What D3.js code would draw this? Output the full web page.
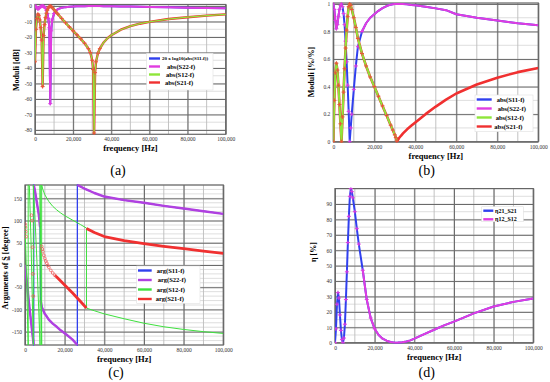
<!DOCTYPE html>
<html>
<head>
<meta charset="utf-8">
<script src="https://cdn.jsdelivr.net/npm/d3@7"></script>
<style>
body { margin: 0; background: #fff; }
svg text { font-family: "Liberation Serif", "DejaVu Serif", serif; }
</style>
</head>
<body>
<svg id="fig" width="550" height="382"></svg>
<script>
// frequency samples used by the magnitude panels (a), (b), (d)
const freqHz = [0, 500, 1000, 1500, 2000, 2500, 3000, 3500, 4000, 4500,
    5000, 5500, 6000, 6500, 7000, 7500, 8000, 8500, 9000, 10000,
    11000, 12000, 14000, 16000, 18000, 20000, 22000, 24000, 26000, 28000,
    29000, 30000, 30500, 31000, 31500, 32000, 33000, 34000, 36000, 38000,
    40000, 45000, 50000, 55000, 60000, 70000, 80000, 90000, 100000];

// (a) moduli in dB
const s11dB = [0, -0.3, -1.2, -2.0, -1.6, -0.8, -0.3, -0.1, 0, -0.2,
    -0.7, -1.5, -2.8, -4.8, -8, -14, -63, -16, -9, -4.8,
    -3.0, -2.0, -1.1, -0.7, -0.45, -0.3, -0.2, -0.12, -0.06, -0.03,
    -0.02, -0.01, 0, 0, 0, 0, -0.01, -0.02, -0.05, -0.08,
    -0.12, -0.22, -0.33, -0.45, -0.58, -0.85, -1.1, -1.3, -1.5];
const s21dB = [-36, -15, -8, -5.2, -6, -9, -14, -22, -52, -19,
    -12, -7.5, -4.6, -2.6, -1.2, -0.3, 0, -0.4, -1.0, -2.4,
    -3.8, -5.2, -8, -10.8, -13.5, -16, -18.6, -21.2, -24, -27.5,
    -30, -35, -41, -82, -43, -36, -30.5, -27.5, -23.5, -20.8,
    -18.8, -15.3, -13, -11.4, -10.2, -8.4, -7.2, -6.2, -5.4];

// (b) moduli, linear
const s11Abs = [1.0, 0.96, 0.88, 0.82, 0.85, 0.91, 0.96, 0.99, 1.0, 0.98,
    0.93, 0.85, 0.73, 0.58, 0.41, 0.22, 0.0, 0.1, 0.2, 0.38,
    0.55, 0.69, 0.8, 0.86, 0.9, 0.925, 0.95, 0.97, 0.985, 0.995,
    0.998, 1.0, 1.0, 1.0, 1.0, 1.0, 1.0, 0.999, 0.997, 0.993,
    0.99, 0.98, 0.968, 0.955, 0.925, 0.9, 0.88, 0.86, 0.845];
const s21Abs = [0, 0.3, 0.5, 0.57, 0.52, 0.41, 0.27, 0.13, 0.0, 0.18,
    0.36, 0.53, 0.68, 0.81, 0.91, 0.98, 1.0, 0.99, 0.96, 0.9,
    0.83, 0.75, 0.64, 0.55, 0.47, 0.4, 0.33, 0.26, 0.19, 0.12,
    0.085, 0.05, 0.03, 0.005, 0.012, 0.025, 0.043, 0.06, 0.09, 0.115,
    0.14, 0.2, 0.255, 0.305, 0.35, 0.415, 0.465, 0.505, 0.535];

// (d) efficiency in %
const etaPct = [0, 9, 25, 32.5, 29, 18, 8, 2, 0, 3,
    12, 28, 46, 65, 82, 95, 100, 98, 94, 85,
    74, 64, 47, 28, 16, 9, 5, 2.6, 1.3, 0.5,
    0.25, 0.08, 0.02, 0, 0.01, 0.05, 0.15, 0.3, 0.8, 1.5,
    2.6, 5.6, 8.4, 11.2, 13.7, 19, 23.5, 26.5, 28.7];

// (c) arguments in degrees, [frequency, degree]; wraps kept as written
const argS11 = [[0, 0], [1000, -40], [2000, -85], [3000, -125], [4000, -165], [4400, -180],
    [4400, 180], [5000, 168], [6000, 140], [7000, 112], [7600, 85],
    [7900, -80], [8500, -95], [10000, -110], [11000, -116], [12000, -123], [14000, -132],
    [16000, -139], [18000, -147], [21000, -157], [24000, -168], [26400, -180],
    [26400, 180], [30000, 172], [35000, 162], [40000, 154], [50000, 146], [60000, 140],
    [70000, 133], [80000, 127], [90000, 121], [100000, 115]];
const argS22 = argS11;
const argS12 = [[0, 90], [500, 20], [1000, -70], [1600, -180],
    [1600, 180], [2200, 178], [3000, 60], [3600, -60], [4200, -180],
    [4200, 180], [5000, 110], [6000, 10], [7000, -110], [7600, -180],
    [7600, 180], [8400, -180],
    [8400, 180], [9000, 170], [10000, 158], [12000, 143], [14000, 132], [16000, 124],
    [18000, 117], [20000, 111], [24000, 101], [28000, 91], [31000, 83],
    [31000, -97], [35000, -103], [40000, -110], [50000, -121], [60000, -131],
    [70000, -139], [80000, -145], [90000, -150], [100000, -154]];
const argS21 = [[0, 92], [200, 85], [400, 75], [600, 64], null,
    [3300, 112], [3600, 100], [3800, 40], [4000, -20], [4200, -70], null,
    [8400, 42], [8700, 36], [9000, 30], [9500, 22], [10000, 15], [10500, 9], [11000, 4],
    [11500, -1], [12000, -5], [13000, -12], [14000, -18], [15000, -23], [16000, -27],
    [18000, -36], [20000, -45], [24000, -63], [28000, -82], [31000, -97], null,
    [31000, 82], [35000, 73], [40000, 64], [50000, 55], [60000, 48], [70000, 42],
    [80000, 37], [90000, 31], [100000, 26]];

const xTicks = [0, 20000, 40000, 60000, 80000, 100000];

const BLUE = "#3040ee", MAGENTA = "#e03ce0", LIME = "#8ee63a", RED = "#f03030",
    GREEN = "#3ee03e", PURPLE = "#b040e0";

const svg = d3.select("#fig");
let clipId = 0;

function range(a, b, step) {
    return d3.range(a, b + step / 2, step);
}

function makePanel(o) {
    const x = d3.scaleLinear().domain([0, 100000]).range([o.left, o.right]);
    const y = d3.scaleLinear().domain(o.yDomain).range([o.bottom, o.top]);
    const w = o.right - o.left, h = o.bottom - o.top;
    const g = svg.append("g");

    g.append("rect").attr("x", o.left).attr("y", o.top)
        .attr("width", w).attr("height", h).attr("fill", "#fff");

    // light minor grid
    g.append("g").selectAll("line").data(o.yMinor).join("line")
        .attr("x1", o.left).attr("x2", o.right)
        .attr("y1", d => y(d)).attr("y2", d => y(d))
        .attr("stroke", "#d6d6d6").attr("stroke-width", 0.8);
    g.append("g").selectAll("line").data(range(0, 100000, 10000)).join("line")
        .attr("y1", o.top).attr("y2", o.bottom)
        .attr("x1", d => x(d)).attr("x2", d => x(d))
        .attr("stroke", "#bcbcbc").attr("stroke-width", 0.9);

    const yAxis = d3.axisLeft(y).tickValues(o.yTicks).tickSize(-w).tickPadding(3)
        .tickFormat(o.yFormat || (d => d));
    const xAxis = d3.axisBottom(x).tickValues(xTicks).tickSize(-h).tickPadding(3)
        .tickFormat(d3.format(","));

    g.append("g").attr("transform", `translate(${o.left},0)`).call(yAxis).call(styleAxis);
    g.append("g").attr("transform", `translate(0,${o.bottom})`).call(xAxis).call(styleAxis);

    g.append("rect").attr("x", o.left).attr("y", o.top)
        .attr("width", w).attr("height", h)
        .attr("fill", "none").attr("stroke", "#666").attr("stroke-width", 1.2);

    const id = "clip" + (clipId++);
    g.append("clipPath").attr("id", id).append("rect")
        .attr("x", o.left).attr("y", o.top - 1).attr("width", w).attr("height", h + 2);
    const plot = g.append("g").attr("clip-path", `url(#${id})`);

    g.append("text").attr("x", (o.left + o.right) / 2).attr("y", o.bottom + 17)
        .attr("text-anchor", "middle").attr("font-size", 8.5).attr("font-weight", "bold")
        .text("frequency [Hz]");
    g.append("text")
        .attr("transform", `translate(${o.yTitleX},${o.yTitleY}) rotate(-90)`)
        .attr("text-anchor", "middle").attr("font-size", 8).attr("font-weight", "bold")
        .text(o.yTitle);
    svg.append("text").attr("x", o.tagX).attr("y", o.tagY)
        .attr("text-anchor", "middle").attr("font-size", 14).text(o.tag);

    return {x, y, plot};
}

function styleAxis(sel) {
    sel.select(".domain").remove();
    sel.selectAll(".tick line").attr("stroke", "#6a6a6a").attr("stroke-width", 1);
    sel.selectAll(".tick text").attr("font-size", 5.5).attr("fill", "#333");
}

function drawLine(p, xs, ys, color, width, keep) {
    const pts = xs.map((f, i) => (!keep || keep(f)) ? [f, ys[i]] : null);
    p.plot.append("path").datum(pts)
        .attr("fill", "none").attr("stroke", color).attr("stroke-width", width)
        .attr("stroke-linejoin", "round")
        .attr("d", d3.line().defined(d => d).x(d => p.x(d[0])).y(d => p.y(d[1])));
}

function drawPairs(p, pts, color, width, splitJumps) {
    let data = pts;
    if (splitJumps) {
        data = [];
        pts.forEach((d, i) => {
            const prev = pts[i - 1];
            if (d && prev && Math.abs(d[1] - prev[1]) > 120) data.push(null);
            data.push(d);
        });
    }
    p.plot.append("path").datum(data)
        .attr("fill", "none").attr("stroke", color).attr("stroke-width", width)
        .attr("stroke-linejoin", "round")
        .attr("d", d3.line().defined(d => d).x(d => p.x(d[0])).y(d => p.y(d[1])));
}

function drawCrosses(p, xs, ys, color, keep) {
    const pts = xs.map((f, i) => [f, ys[i]]).filter(d => keep(d[0]));
    p.plot.append("g").selectAll("path").data(pts).join("path")
        .attr("transform", d => `translate(${p.x(d[0])},${p.y(d[1])})`)
        .attr("d", "M-2,0H2M0,-2V2")
        .attr("stroke", color).attr("stroke-width", 1);
}

function legend(box, rows) {
    const g = svg.append("g");
    g.append("rect").attr("x", box.x).attr("y", box.y).attr("width", box.w).attr("height", box.h)
        .attr("fill", "#fff").attr("stroke", "#e0e0e0").attr("stroke-width", 0.6);
    rows.forEach(r => {
        g.append("line").attr("x1", box.lx1).attr("x2", box.lx2).attr("y1", r.y).attr("y2", r.y)
            .attr("stroke", r.color).attr("stroke-width", 2.4);
        g.append("text").attr("x", r.tx).attr("y", r.y).attr("dy", "0.33em")
            .attr("font-size", r.size || 6.5).attr("font-weight", "bold").text(r.label);
    });
}

// ---------- (a) ----------
const pa = makePanel({
    left: 35, right: 225.7, top: 4.5, bottom: 134.3, yDomain: [-82.8, 1],
    yTicks: range(-80, 0, 10), yMinor: range(-80, 0, 5),
    yTitle: "Moduli [dB]", yTitleX: 19, yTitleY: 70,
    tag: "(a)", tagX: 118, tagY: 175
});
drawLine(pa, freqHz, s11dB, BLUE, 2);
drawLine(pa, freqHz, s11dB, MAGENTA, 2);
drawCrosses(pa, freqHz, s11dB, MAGENTA, f => f <= 10000);
drawLine(pa, freqHz, s21dB, RED, 2.4);
drawLine(pa, freqHz, s21dB, LIME, 1.3);
drawCrosses(pa, freqHz, s21dB, "#e8553a", f => f <= 34000);
legend({x: 146.7, y: 53.3, w: 66.3, h: 36.7, lx1: 149, lx2: 160}, [
    {y: 58.5, color: BLUE, label: "20 x log10(abs(S11-f))", tx: 162, size: 5},
    {y: 66.5, color: MAGENTA, label: "abs(S22-f)", tx: 167},
    {y: 74.5, color: LIME, label: "abs(S12-f)", tx: 166},
    {y: 82.5, color: RED, label: "abs(S21-f)", tx: 165}
]);

// ---------- (b) ----------
const pb = makePanel({
    left: 333.3, right: 538.3, top: 3, bottom: 141.7, yDomain: [0, 1.007],
    yTicks: range(0, 1, 0.2), yMinor: range(0, 1, 0.1),
    yFormat: d => d3.format("~g")(+d.toFixed(1)),
    yTitle: "Moduli [%/%]", yTitleX: 314, yTitleY: 72,
    tag: "(b)", tagX: 426.7, tagY: 175
});
drawLine(pb, freqHz, s11Abs, BLUE, 2);
drawLine(pb, freqHz, s11Abs, MAGENTA, 2, f => f <= 4000 || f >= 14000);
drawCrosses(pb, freqHz, s11Abs, MAGENTA, f => f <= 14000);
drawLine(pb, freqHz, s21Abs, RED, 2.6);
drawLine(pb, freqHz, s21Abs, LIME, 2, f => f <= 31000);
drawCrosses(pb, freqHz, s21Abs, "#e8553a", f => f <= 31000);
legend({x: 475, y: 95, w: 58, h: 36.7, lx1: 476.7, lx2: 491.7}, [
    {y: 99.5, color: BLUE, label: "abs(S11-f)", tx: 496.7},
    {y: 108.5, color: MAGENTA, label: "abs(S22-f)", tx: 497.7},
    {y: 117.5, color: LIME, label: "abs(S12-f)", tx: 495.7},
    {y: 126.5, color: RED, label: "abs(S21-f)", tx: 494.3}
]);

// ---------- (c) ----------
const pc = makePanel({
    left: 25, right: 223.3, top: 185, bottom: 345, yDomain: [-180, 180],
    yTicks: range(-150, 150, 50), yMinor: range(-180, 180, 10),
    yTitle: "Arguments of S\u0333 [degree]", yTitleX: 8, yTitleY: 268,
    tag: "(c)", tagX: 116, tagY: 377
});
drawPairs(pc, argS11, BLUE, 1.3, false);
drawPairs(pc, argS22, PURPLE, 2.4, true);
drawPairs(pc, argS12, GREEN, 1, false);
drawPairs(pc, argS21.map(d => d && d[0] >= 15000 ? d : null), RED, 2.8, false);
pc.plot.append("g").selectAll("circle")
    .data(argS21.filter(d => d && d[0] < 16000)).join("circle")
    .attr("cx", d => pc.x(d[0])).attr("cy", d => pc.y(d[1])).attr("r", 1.4)
    .attr("fill", "none").attr("stroke", "#f06060").attr("stroke-width", 0.8);
legend({x: 136.7, y: 266, w: 63.3, h: 37.3, lx1: 138, lx2: 151.7}, [
    {y: 270.5, color: BLUE, label: "arg(S11-f)", tx: 156.7},
    {y: 280, color: PURPLE, label: "arg(S22-f)", tx: 157.7},
    {y: 289.5, color: GREEN, label: "arg(S12-f)", tx: 156.7},
    {y: 299, color: RED, label: "arg(S21-f)", tx: 155.7}
]);

// ---------- (d) ----------
const pd = makePanel({
    left: 335, right: 533.3, top: 188.6, bottom: 342.7, yDomain: [0, 100],
    yTicks: range(0, 90, 10), yMinor: range(0, 100, 5),
    yTitle: "\u03b7 [%]", yTitleX: 316, yTitleY: 252,
    tag: "(d)", tagX: 426.7, tagY: 377
});
drawLine(pd, freqHz, etaPct, BLUE, 2);
drawLine(pd, freqHz, etaPct, MAGENTA, 2, f => f >= 14000);
drawCrosses(pd, freqHz, etaPct, MAGENTA, f => f <= 20000);
legend({x: 481.7, y: 206.7, w: 41.6, h: 15, lx1: 483.3, lx2: 493.3}, [
    {y: 210.7, color: BLUE, label: "\u03b721_S21", tx: 495, size: 6},
    {y: 219.3, color: MAGENTA, label: "\u03b712_S12", tx: 495, size: 6}
]);
</script>
</body>
</html>
